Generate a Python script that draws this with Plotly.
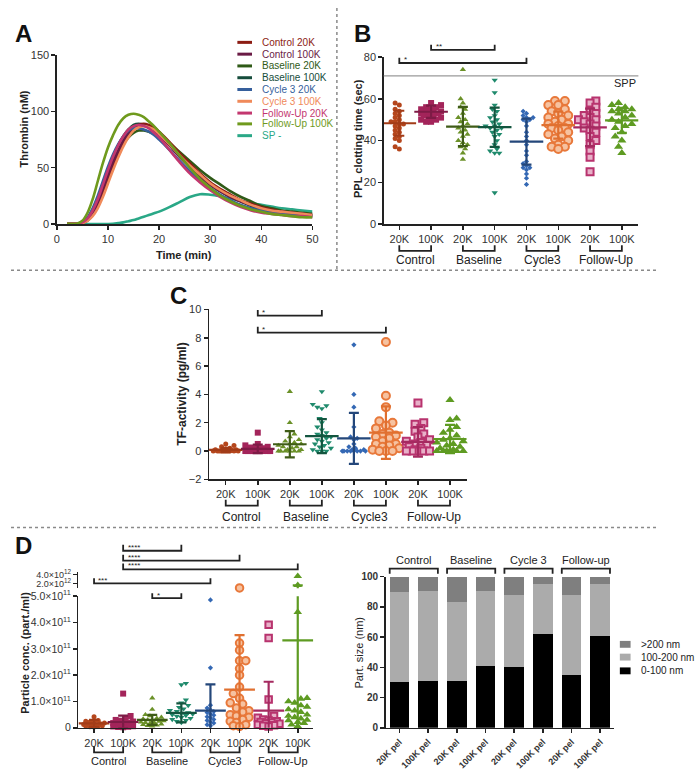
import plotly.graph_objects as go

W, H = 700, 778
def X(px): return px / W
def Y(py): return 1 - py / H

FONT = "Arial, 'Liberation Sans', sans-serif"
INK = "#222222"

# ---------------- Panel A: thrombin generation ----------------
time_min = [2, 4, 5, 6, 7, 8, 9, 10, 11, 12, 13, 14, 15, 16, 17, 18, 19, 20,
            22, 24, 26, 28, 30, 32, 34, 36, 38, 40, 42, 44, 46, 48, 50]
thr_control_20k = [0.5, 0.5, 1, 3, 8, 16, 27, 39, 51, 62, 71, 79, 85, 88, 89, 88, 86, 82,
                   73, 63, 54, 45, 37, 31, 26, 21, 18, 15, 13, 11, 10, 9, 8]
thr_control_100k = [0.5, 0.5, 1.2, 4, 10, 19, 31, 43, 55, 65, 74, 81, 86, 88, 87.5, 86, 83, 79,
                    70, 60, 51, 43, 35, 29, 24, 20, 17, 14, 12, 11, 10, 9, 8]
thr_baseline_20k = [0.5, 0.5, 1.2, 4, 10, 19, 30, 42, 53, 63, 71, 77, 81, 83, 83, 82, 80, 78,
                    72, 64, 56, 48, 41, 35, 29, 24, 20, 16, 14, 12, 11, 10, 9]
thr_baseline_100k = [0.5, 0.5, 1.5, 5, 12, 22, 35, 48, 60, 70, 78, 84, 88, 89, 88, 86, 83, 79,
                     70, 60, 51, 42, 35, 29, 24, 20, 16, 13, 11, 10, 9, 8, 7]
thr_cycle3_20k = [0.5, 0.5, 2, 6, 14, 25, 38, 51, 62, 71, 78, 83, 85, 85, 84, 82, 79, 75,
                  66, 56, 47, 39, 32, 26, 21, 17, 14, 12, 10, 9, 8, 7, 7]
thr_cycle3_100k = [0.3, 0.3, 0.8, 3, 7, 14, 24, 36, 48, 59, 69, 77, 83, 86, 87, 86, 84, 80,
                   71, 61, 52, 44, 36, 30, 25, 21, 17, 14, 12, 11, 10, 9, 8]
thr_followup_20k = [0.5, 0.5, 1.5, 5, 12, 22, 35, 48, 60, 70, 78, 84, 87, 88, 87, 85, 81, 77,
                    66, 55, 45, 37, 30, 24, 19, 15, 12, 10, 9, 8, 7, 7, 6]
thr_followup_100k = [0.5, 0.5, 3, 10, 22, 38, 54, 68, 79, 88, 94, 97, 98, 97, 95, 91, 87, 82,
                     72, 61, 50, 40, 32, 25, 20, 16, 13, 11, 9, 8, 7, 6, 6]
thr_sp = [0, 0, 0, 0, 0, 0, 0, 0, 0.2, 0.8, 1.5, 2.5, 3.5, 5, 6.5, 8, 9.5, 11,
          15, 19.5, 24, 26.5, 26, 24.5, 22.5, 20.5, 18.5, 17, 15.5, 14, 13, 12, 11]
curve_names = ["Control 20K", "Control 100K", "Baseline 20K", "Baseline 100K", "Cycle 3 20K",
               "Cycle 3 100K", "Follow-Up 20K", "Follow-Up 100K", "SP -"]
curve_colors = ["#8c1c13", "#6a1b45", "#2f5a17", "#164d3c", "#365f9c",
                "#f08a5a", "#c3376f", "#6f9a1d", "#2aa887"]

# ---------------- Categories ----------------
tick_labels = ["20K", "100K", "20K", "100K", "20K", "100K", "20K", "100K"]
group_labels = ["Control", "Baseline", "Cycle3", "Follow-Up"]
group_labels_size = ["Control", "Baseline", "Cycle 3", "Follow-up"]
bar_labels = ["20K pel", "100K pel", "20K pel", "100K pel", "20K pel", "100K pel", "20K pel", "100K pel"]

# ---------------- Panel B: PPL clotting time (sec) ----------------
ppl_ctrl20 = [58, 57, 55, 54, 53, 52, 51, 50, 49, 49, 48, 48, 47, 46, 45, 44, 43, 42, 41, 40, 37, 36]
ppl_ctrl100 = [58, 57, 56, 56, 55, 55, 54, 54, 54, 53, 53, 53, 52, 52, 51, 51, 50, 50, 49, 49]
ppl_base20 = [74, 60, 58, 56, 55, 53, 51, 50, 49, 48, 47, 46, 45, 44, 43, 42, 40, 39, 38, 37, 36, 34, 31]
ppl_base100 = [69, 63, 57, 55, 54, 52, 51, 50, 49, 48, 47, 47, 46, 46, 45, 44, 43, 42, 40, 38, 36, 35, 34, 34, 15]
ppl_cyc20 = [54, 53, 52, 51, 51, 50, 50, 49, 47, 44, 42, 40, 38, 35, 33, 30, 29, 28, 27, 27, 26, 24, 22, 19]
ppl_cyc100 = [59, 59, 57, 57, 55, 54, 53, 52, 51, 50, 49, 48, 48, 47, 46, 46, 45, 44, 43, 42, 41, 40, 38, 37, 37, 36]
ppl_fu20 = [59, 58, 56, 54, 53, 52, 51, 50, 50, 49, 48, 47, 46, 45, 44, 42, 40, 38, 35, 32, 25]
ppl_fu100 = [58, 57, 56, 55, 55, 54, 54, 53, 52, 51, 50, 49, 48, 47, 46, 44, 42, 40, 37, 34]
ppl_mean = [48.3, 53.8, 46.7, 46.4, 39.5, 47.4, 46.3, 49.7]
ppl_sd = [6.0, 2.9, 9.4, 9.4, 11.0, 6.5, 9.0, 6.0]
spp_value = 71

# ---------------- Panel C: TF-activity (pg/ml) ----------------
tf_ctrl20 = [0.5, 0.4, 0.3, 0.2, 0.15, 0.1, 0.1, 0.05, 0, 0, 0, 0, 0, 0, 0, 0, 0, 0]
tf_ctrl100 = [1.3, 0.5, 0.4, 0.3, 0.25, 0.2, 0.2, 0.1, 0.1, 0.05, 0, 0, 0, 0, 0, 0, 0, 0, 0, 0]
tf_base20 = [4.2, 2.0, 1.2, 1.0, 0.8, 0.7, 0.6, 0.5, 0.5, 0.4, 0.3, 0.3, 0.2, 0.1, 0.1, 0, 0, 0, 0, 0, 0]
tf_base100 = [4.2, 3.3, 3.2, 3.1, 3.0, 2.3, 2.0, 1.7, 1.5, 1.3, 1.2, 1.1, 1.0, 0.9, 0.8, 0.7, 0.6, 0.5,
              0.4, 0.3, 0.2, 0.1, 0, 0, 0]
tf_cyc20 = [7.5, 4.0, 3.1, 1.7, 1.0, 0.9, 0.8, 0.5, 0.3, 0.2, 0.1, 0.1, 0, 0, 0, 0, 0, 0, 0, 0]
tf_cyc100 = [7.7, 3.9, 3.1, 2.1, 2.0, 1.8, 1.6, 1.3, 1.2, 1.1, 1.0, 0.9, 0.7, 0.5, 0.5, 0.4, 0.3, 0.2,
             0.1, 0, 0, 0]
tf_fu20 = [3.4, 2.0, 1.9, 1.6, 1.4, 1.2, 1.0, 0.8, 0.7, 0.6, 0.5, 0.4, 0.3, 0.2, 0.1, 0, 0, 0, 0, 0]
tf_fu100 = [3.6, 2.3, 2.2, 1.7, 1.5, 1.3, 1.1, 0.9, 0.8, 0.7, 0.6, 0.5, 0.4, 0.3, 0.2, 0.1, 0, 0, 0, 0, 0, 0]
tf_mean = [0.08, 0.15, 0.48, 1.05, 0.9, 1.3, 0.65, 0.85]
tf_sd = [0.15, 0.3, 0.93, 1.2, 1.8, 1.85, 1.05, 1.0]

# ---------------- Panel D left: particle conc. (x 1e11 part./ml) ----------------
pc_ctrl20 = [0.42, 0.28, 0.25, 0.22, 0.2, 0.18, 0.15, 0.13, 0.12, 0.1, 0.1, 0.08, 0.07, 0.05, 0.04, 0.03]
pc_ctrl100 = [1.3, 0.45, 0.35, 0.3, 0.27, 0.24, 0.2, 0.18, 0.16, 0.14, 0.12, 0.1, 0.1, 0.08, 0.06, 0.05,
              0.04, 0.03, 0.02]
pc_base20 = [1.13, 0.7, 0.5, 0.45, 0.4, 0.36, 0.33, 0.3, 0.28, 0.26, 0.24, 0.22, 0.2, 0.18, 0.16, 0.14,
             0.12, 0.1, 0.08, 0.06]
pc_base100 = [1.69, 1.64, 1.06, 0.95, 0.85, 0.78, 0.72, 0.66, 0.62, 0.58, 0.55, 0.52, 0.5, 0.47, 0.44,
              0.4, 0.36, 0.32, 0.28, 0.24, 0.2]
pc_cyc20 = [4.86, 2.28, 0.86, 0.75, 0.68, 0.62, 0.58, 0.52, 0.48, 0.42, 0.38, 0.32, 0.28, 0.22, 0.18,
            0.12, 0.08]
pc_cyc100 = [10.0, 3.22, 2.95, 2.55, 2.55, 2.25, 2.0, 1.55, 1.3, 1.12, 0.95, 0.9, 0.75, 0.65, 0.6, 0.5,
             0.45, 0.4, 0.32, 0.25, 0.2, 0.12, 0.08, 0.05]
pc_fu20 = [3.92, 3.41, 1.08, 0.45, 0.38, 0.32, 0.28, 0.25, 0.22, 0.2, 0.17, 0.15, 0.12, 0.1, 0.08, 0.05]
pc_fu100 = [36.0, 16.0, 4.4, 1.13, 1.1, 1.0, 0.95, 0.85, 0.8, 0.7, 0.65, 0.6, 0.5, 0.45, 0.4, 0.35,
            0.3, 0.28, 0.22, 0.18, 0.12, 0.06]
pc_mean = [0.17, 0.22, 0.3, 0.57, 0.65, 1.45, 0.65, 3.32]
pc_sd = [0.13, 0.24, 0.19, 0.36, 1.0, 2.07, 1.1, 12.2]
pc_low_ticks = [0, 1, 2, 3, 4, 5]
pc_low_ticktext = ["0", "1.0×10<sup>11</sup>", "2.0×10<sup>11</sup>", "3.0×10<sup>11</sup>",
                   "4.0×10<sup>11</sup>", "5.0×10<sup>11</sup>"]
pc_high_ticks = [20, 40]
pc_high_ticktext = ["2.0×10<sup>12</sup>", "4.0×10<sup>12</sup>"]

# ---------------- Panel D right: particle size distribution (%) ----------------
size_0_100 = [30.5, 31, 31, 41, 40.5, 62, 35, 61]
size_100_200 = [59, 59.5, 52.5, 49.5, 47, 33, 52.5, 34]
size_over_200 = [10.5, 9.5, 16.5, 9.5, 12.5, 5, 12.5, 5]
size_names = ["0-100 nm", "100-200 nm", ">200 nm"]
size_colors = ["#000000", "#ababab", "#7f7f7f"]

# ---------------- styles per group ----------------
grp_colors = ["#b5461c", "#a3245a", "#6b9128", "#1f8a6c", "#3468b4", "#e8783a", "#b8336e", "#5e9b22"]
grp_fill = ["#b5461c", "#a3245a", "#6b9128", "#1f8a6c", "#3468b4", "#f6c2a0", "#e8b0c8", "#5e9b22"]
grp_err = ["#a23c18", "#7e1b46", "#3f5c17", "#13553f", "#24477a", "#e07030", "#a52a60", "#5e9b22"]
grp_symbol = ["circle", "square", "triangle-up", "triangle-down", "diamond", "circle", "square", "triangle-up"]
grp_line = [0, 0, 0, 0, 0, 2, 2, 0]

fig = go.Figure()
shapes = []
annotations = []


def txt(x, y, s, size=11, color=INK, bold=False, xref="paper", yref="paper",
        xanchor="center", yanchor="middle", angle=0):
    annotations.append(dict(x=x, y=y, xref=xref, yref=yref, text=f"<b>{s}</b>" if bold else s,
                            showarrow=False, font=dict(family=FONT, size=size, color=color),
                            xanchor=xanchor, yanchor=yanchor, textangle=angle))


def bracket(xref, x0, x1, y_line_px, y_tip_px, width=1.8):
    path = (f"M {x0},{Y(y_tip_px)} L {x0},{Y(y_line_px)} L {x1},{Y(y_line_px)} L {x1},{Y(y_tip_px)}")
    shapes.append(dict(type="path", path=path, xref=xref, yref="paper",
                       line=dict(color=INK, width=width)))


def swarm(vals, ppu_y, ppu_x, d, maxoff):
    """Deterministic beeswarm spread (pixel space) limited to +/- maxoff px."""
    order = sorted(range(len(vals)), key=lambda i: vals[i])
    placed = []
    offs = [0.0] * len(vals)
    step = d * 0.5
    nmax = max(1, int(maxoff / step))
    for n, i in enumerate(order):
        yp = vals[i] * ppu_y
        cands = [0.0]
        for k in range(1, nmax + 1):
            cands += [k * step, -k * step] if n % 2 == 0 else [-k * step, k * step]
        best, bestd = 0.0, -1.0
        for c in cands:
            md = min([((c - px) ** 2 + (yp - py) ** 2) ** 0.5 for px, py in placed] or [1e9])
            if md >= d:
                best = c
                break
            if md > bestd:
                bestd, best = md, c
        placed.append((best, yp))
        offs[i] = best / ppu_x
    return offs


def dot_panel(xa, ya, groups, means, sds, ppu_y, ppu_x, sizes, mean_w, cap_w, maxoff,
              split=None, xa_up=None, ya_up=None):
    for i, vals in enumerate(groups):
        lo = [v for v in vals if split is None or v <= split]
        hi = [v for v in vals if split is not None and v > split]
        offs = swarm(lo, ppu_y, ppu_x, sizes[i] * 0.85, maxoff)
        mk = dict(symbol=grp_symbol[i], size=sizes[i], color=grp_fill[i],
                  line=dict(color=grp_colors[i], width=grp_line[i]))
        fig.add_trace(go.Scatter(x=[i + o for o in offs], y=lo, mode="markers", marker=mk,
                                 xaxis=xa, yaxis=ya, cliponaxis=False, hoverinfo="skip"))
        if hi:
            fig.add_trace(go.Scatter(x=[i] * len(hi), y=hi, mode="markers", marker=mk,
                                     xaxis=xa_up, yaxis=ya_up, cliponaxis=False, hoverinfo="skip"))
    axes_pairs = [(xa, ya)] + ([(xa_up, ya_up)] if split is not None else [])
    for (xx, yy) in axes_pairs:
        for i in range(len(groups)):
            fig.add_trace(go.Scatter(
                x=[i], y=[means[i]], mode="markers", xaxis=xx, yaxis=yy, hoverinfo="skip",
                marker=dict(symbol="line-ew", size=mean_w, color=grp_err[i],
                            line=dict(color=grp_err[i], width=2.2)),
                error_y=dict(type="data", array=[sds[i]], visible=True, color=grp_err[i],
                             thickness=2.2, width=cap_w)))


# ---- Panel A traces ----
curves = [thr_control_20k, thr_control_100k, thr_baseline_20k, thr_baseline_100k, thr_cycle3_20k,
          thr_cycle3_100k, thr_followup_20k, thr_followup_100k, thr_sp]
draw_order = [8, 2, 3, 0, 1, 4, 5, 6, 7]
for k in draw_order:
    fig.add_trace(go.Scatter(x=time_min, y=curves[k], mode="lines", name=curve_names[k],
                             line=dict(color=curve_colors[k], width=2.6, shape="spline"),
                             xaxis="x", yaxis="y", hoverinfo="skip"))
# compact legend for A
leg_rows = [35, 47, 59, 71, 83, 95, 107, 118, 130]
for k, name in enumerate(curve_names):
    shapes.append(dict(type="line", xref="paper", yref="paper", x0=X(232), x1=X(247),
                       y0=Y(leg_rows[k]), y1=Y(leg_rows[k]),
                       line=dict(color=curve_colors[k], width=3)))
    txt(X(255), Y(leg_rows[k]), name, size=10, color=curve_colors[k], xanchor="left")

# ---- Panel B ----
dot_panel("x2", "y2",
          [ppl_ctrl20, ppl_ctrl100, ppl_base20, ppl_base100, ppl_cyc20, ppl_cyc100, ppl_fu20, ppl_fu100],
          ppl_mean, ppl_sd, 170 / 80, 32.6, [5, 6, 5.5, 5.5, 4, 8, 7, 8], 24, 5, 12)
shapes.append(dict(type="line", xref="x2 domain", x0=0, x1=1, yref="y2", y0=spp_value, y1=spp_value,
                   line=dict(color="#9a9a9a", width=1.2)))
txt(X(643), Y(76), "SPP", size=11, color=INK, xanchor="right")

# ---- Panel C ----
dot_panel("x3", "y3",
          [tf_ctrl20, tf_ctrl100, tf_base20, tf_base100, tf_cyc20, tf_cyc100, tf_fu20, tf_fu100],
          tf_mean, tf_sd, 173 / 12, 32.9, [5, 6, 5.5, 5.5, 4, 8, 7, 8], 24, 5, 14)

# ---- Panel D left ----
dot_panel("x4", "y4",
          [pc_ctrl20, pc_ctrl100, pc_base20, pc_base100, pc_cyc20, pc_cyc100, pc_fu20, pc_fu100],
          pc_mean, pc_sd, 134 / 5, 29.86, [5, 6, 5.5, 5.5, 4, 7.5, 6.5, 7.5], 22, 5, 12,
          split=5, xa_up="x5", ya_up="y5")

# ---- Panel D right ----
for vals, nm, col in zip([size_0_100, size_100_200, size_over_200], size_names, size_colors):
    fig.add_trace(go.Bar(x=list(range(8)), y=vals, name=nm, marker=dict(color=col, line=dict(width=0)),
                         width=0.68, xaxis="x6", yaxis="y6", hoverinfo="skip"))
leg2_rows = [648, 661, 675]
for (nm, col), yy in zip(reversed(list(zip(size_names, size_colors))), leg2_rows):
    shapes.append(dict(type="rect", xref="paper", yref="paper", x0=X(624), x1=X(635),
                       y0=Y(yy + 3.5), y1=Y(yy - 3.5), line=dict(width=0), fillcolor=col))
    txt(X(644), Y(yy), nm, size=10, color=INK, xanchor="left")

# ---------------- axes ----------------
def ax(**kw):
    base = dict(showline=True, linecolor=INK, linewidth=1.5, ticks="outside", ticklen=4,
                tickwidth=1.5, tickcolor=INK, showgrid=False, zeroline=False, fixedrange=True,
                tickfont=dict(family=FONT, size=11, color="#333"))
    base.update(kw)
    return base

cat_ticks = list(range(8))
layout = dict(
    width=W, height=H, margin=dict(l=0, r=0, t=0, b=0), autosize=False,
    paper_bgcolor="white", plot_bgcolor="white", showlegend=False, barmode="stack",
    font=dict(family=FONT, color=INK),
    xaxis=ax(domain=[X(47), X(309)], range=[0, 50], tickvals=[0, 10, 20, 30, 40, 50], anchor="y"),
    yaxis=ax(domain=[Y(220), Y(48)], range=[0, 150], tickvals=[0, 50, 100, 150], anchor="x"),
    xaxis2=ax(domain=[X(382), X(643)], range=[-0.49, 7.52], tickvals=cat_ticks, ticktext=tick_labels,
              anchor="y2"),
    yaxis2=ax(domain=[Y(220), Y(50)], range=[0, 80], tickvals=[0, 20, 40, 60, 80], anchor="x2"),
    xaxis3=ax(domain=[X(203), X(467)], range=[-0.52, 7.52], tickvals=cat_ticks, ticktext=tick_labels,
              anchor="y3"),
    yaxis3=ax(domain=[Y(480), Y(307)], range=[-2, 10], tickvals=[-2, 0, 2, 4, 6, 8, 10], anchor="x3"),
    xaxis4=ax(domain=[X(69), X(310)], range=[-0.54, 7.54], tickvals=cat_ticks, ticktext=tick_labels,
              anchor="y4"),
    yaxis4=ax(domain=[Y(733), Y(599)], range=[0, 5], tickvals=pc_low_ticks, ticktext=pc_low_ticktext,
              anchor="x4", tickfont=dict(family=FONT, size=10.5, color="#333")),
    xaxis5=dict(domain=[X(69), X(310)], range=[-0.54, 7.54], visible=False, anchor="y5",
                fixedrange=True),
    yaxis5=ax(domain=[Y(591), Y(574)], range=[9, 46], tickvals=pc_high_ticks, ticktext=pc_high_ticktext,
              anchor="x5", tickfont=dict(family=FONT, size=9, color="#333")),
    xaxis6=ax(domain=[X(384), X(618)], range=[-0.48, 7.48], tickvals=cat_ticks,
              ticktext=[f"<b>{t}</b>" for t in bar_labels], tickangle=-45, anchor="y6",
              tickfont=dict(family=FONT, size=9, color="#333")),
    yaxis6=ax(domain=[Y(733), Y(579)], range=[0, 100], tickvals=[0, 20, 40, 60, 80, 100],
              ticktext=[f"<b>{v}</b>" for v in [0, 20, 40, 60, 80, 100]], anchor="x6",
              tickfont=dict(family=FONT, size=10, color="#333")),
)

# ---------------- group brackets under category axes ----------------
for xref, (tip, line, lab), fs in [("x2", (241.5, 247.3, 256.7), 12),
                                   ("x3", (500.7, 506.7, 518.3), 12),
                                   ("x4", (751.7, 758.0, 766.7), 11)]:
    for g, lbl in enumerate(group_labels):
        bracket(xref, 2 * g, 2 * g + 1, line, tip)
        txt(2 * g + 0.5, Y(lab), lbl, size=fs, xref=xref)

# headers over size bars (ticks pointing down)
for g, lbl in enumerate(group_labels_size):
    bracket("x6", 2 * g - 0.34, 2 * g + 1.34, 571, 576)
    txt(2 * g + 0.5, Y(562), lbl, size=11, xref="x6")

# ---------------- significance brackets ----------------
sig = [
    ("x2", 0, 4, 56, 50.7, "*", 32.6),
    ("x2", 1, 3, 42.7, 37.5, "**", 32.6),
    ("x3", 1, 3, 313.3, 307.5, "*", 32.9),
    ("x3", 1, 5, 330.5, 324.5, "*", 32.9),
    ("x4", 1, 3, 552.7, 546.7, "****", 29.86),
    ("x4", 1, 5, 562.7, 556.7, "****", 29.86),
    ("x4", 1, 7, 571.7, 565.7, "****", 29.86),
    ("x4", 0, 4, 586, 580.7, "***", 29.86),
    ("x4", 2, 3, 601, 596, "*", 29.86),
]
for xref, a, b, yl, yt, stars, ppx in sig:
    bracket(xref, a, b, yl, yt)
    txt(a + 2.5 / ppx, Y((yl + yt) / 2 - 0.5), stars, size=8, xref=xref, xanchor="left")

# ---------------- axis titles ----------------
txt(X(13), Y(123), "Thrombin (nM)", size=11, bold=True, angle=-90)
txt(X(177), Y(252), "Time (min)", size=11, bold=True)
txt(X(355), Y(133), "PPL clotting time (sec)", size=11, bold=True, angle=-90)
txt(X(175), Y(393), "TF-activity (pg/ml)", size=12, bold=True, angle=-90)
txt(X(15), Y(657), "Particle conc. (part./ml)", size=11, bold=True, angle=-90)
txt(X(357), Y(656), "Part. size (nm)", size=11, angle=-90)

# ---------------- panel letters ----------------
for letter, px, py in [("A", 13, 26), ("B", 360, 26), ("C", 172, 293), ("D", 13, 547)]:
    txt(X(px), Y(py), letter, size=24, bold=True, color="#111")

# ---------------- dotted separators ----------------
for (x0, y0, x1, y1) in [(0, 267, 662, 267), (334, 0, 334, 267), (0, 529, 662, 529)]:
    shapes.append(dict(type="line", xref="paper", yref="paper", x0=X(x0), x1=X(x1), y0=Y(y0), y1=Y(y1),
                       line=dict(color="#8a8a8a", width=1.5, dash="dot")))

layout["shapes"] = shapes
layout["annotations"] = annotations
fig.update_layout(**layout)
fig.write_html("out.html", config={"displayModeBar": False, "staticPlot": True},
               post_script="document.body.style.margin='0';")
